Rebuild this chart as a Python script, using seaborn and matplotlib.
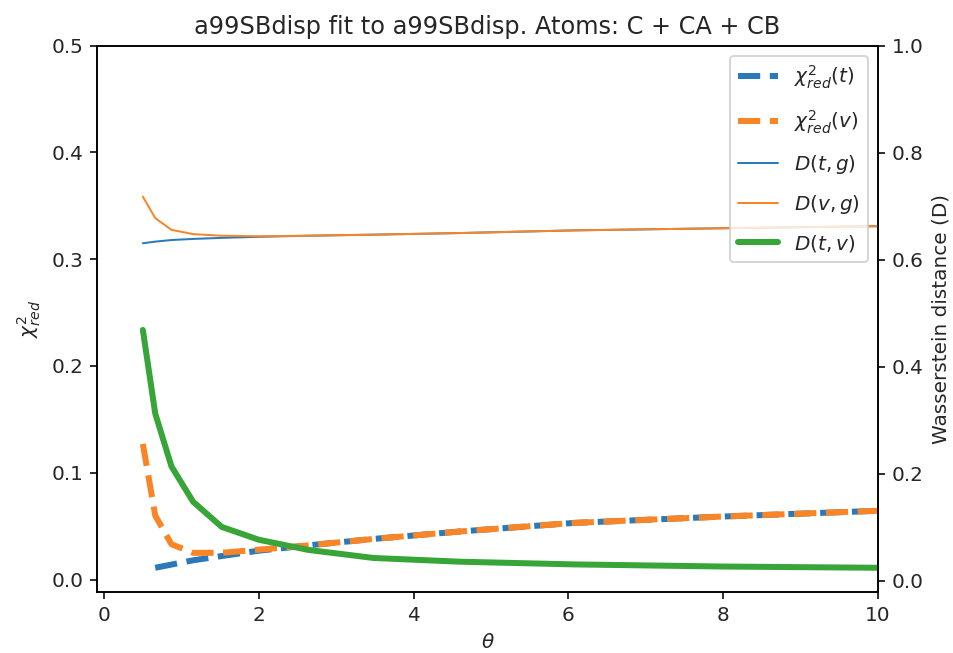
import numpy as np
import pandas as pd
import matplotlib
matplotlib.use("Agg")
import matplotlib.pyplot as plt
import seaborn as sns

theta = [0.5, 0.66, 0.87, 1.15, 1.52, 2.0, 2.64, 3.48, 4.6, 6.07, 8.0, 10.6]
chi2_t = [np.nan, 0.011, 0.014, 0.018, 0.022, 0.027, 0.032, 0.038, 0.045, 0.053, 0.059, 0.066]
chi2_v = [0.127, 0.060, 0.033, 0.025, 0.025, 0.028, 0.032, 0.038, 0.045, 0.053, 0.059, 0.066]
D_tg = [0.631, 0.634, 0.637, 0.639, 0.641, 0.643, 0.645, 0.647, 0.650, 0.655, 0.659, 0.664]
D_vg = [0.718, 0.678, 0.656, 0.648, 0.645, 0.644, 0.645, 0.647, 0.650, 0.655, 0.659, 0.664]
D_tv = [0.469, 0.313, 0.214, 0.148, 0.101, 0.077, 0.058, 0.043, 0.036, 0.031, 0.027, 0.024]

title = "a99SBdisp fit to a99SBdisp. Atoms: C + CA + CB"

df = pd.DataFrame({"theta": theta, "chi2_t": chi2_t, "chi2_v": chi2_v,
                   "D_tg": D_tg, "D_vg": D_vg, "D_tv": D_tv})

sns.set_style("ticks")
plt.rcParams['font.family'] = ['DejaVu Sans']
plt.rcParams['axes.linewidth'] = 0.8

fig, ax = plt.subplots(figsize=(953/144, 653/144), dpi=144)
fig.subplots_adjust(left=0.102, right=0.921, top=0.930, bottom=0.0934)
ax2 = ax.twinx()

c0, c1, c2 = "#2a7ab9", "#fa8526", "#38a538"

sns.lineplot(data=df, x="theta", y="chi2_t", ax=ax, color=c0, lw=3,
             ls=(4.33, (3.7, 1.6)),
             label=r"$\chi^2_{red}(t)$", estimator=None, legend=False)
sns.lineplot(data=df, x="theta", y="chi2_v", ax=ax, color=c1, lw=3, ls="--",
             label=r"$\chi^2_{red}(v)$", estimator=None, legend=False)
sns.lineplot(data=df, x="theta", y="D_tg", ax=ax2, color=c0, lw=1,
             label=r"$D(t,g)$", estimator=None, legend=False)
sns.lineplot(data=df, x="theta", y="D_vg", ax=ax2, color=c1, lw=1,
             label=r"$D(v,g)$", estimator=None, legend=False)
sns.lineplot(data=df, x="theta", y="D_tv", ax=ax2, color=c2, lw=3,
             label=r"$D(t,v)$", estimator=None, legend=False)

ax.set_xlim(-0.09, 10)
ax.set_ylim(-0.0117, 0.5)
ax2.set_ylim(-0.0206, 1.0)
ax.set_xlabel(r"$\theta$")
ax.set_ylabel(r"$\chi^2_{red}$")
ax2.set_ylabel("Wasserstein distance (D)")
ax.set_title(title)
for a in (ax, ax2):
    for s in a.spines.values():
        s.set_visible(True)
        s.set_linewidth(0.8)
        s.set_color("black")
    a.tick_params(colors="black", labelcolor="#262626", length=3.5, width=0.8)

h1, l1 = ax.get_legend_handles_labels()
h2, l2 = ax2.get_legend_handles_labels()
h1[0].set_linestyle("--")
ax2.legend(h1 + h2, l1 + l2, loc="upper right", fontsize=10, labelspacing=0.85)

fig.savefig("out.png", dpi=144)
